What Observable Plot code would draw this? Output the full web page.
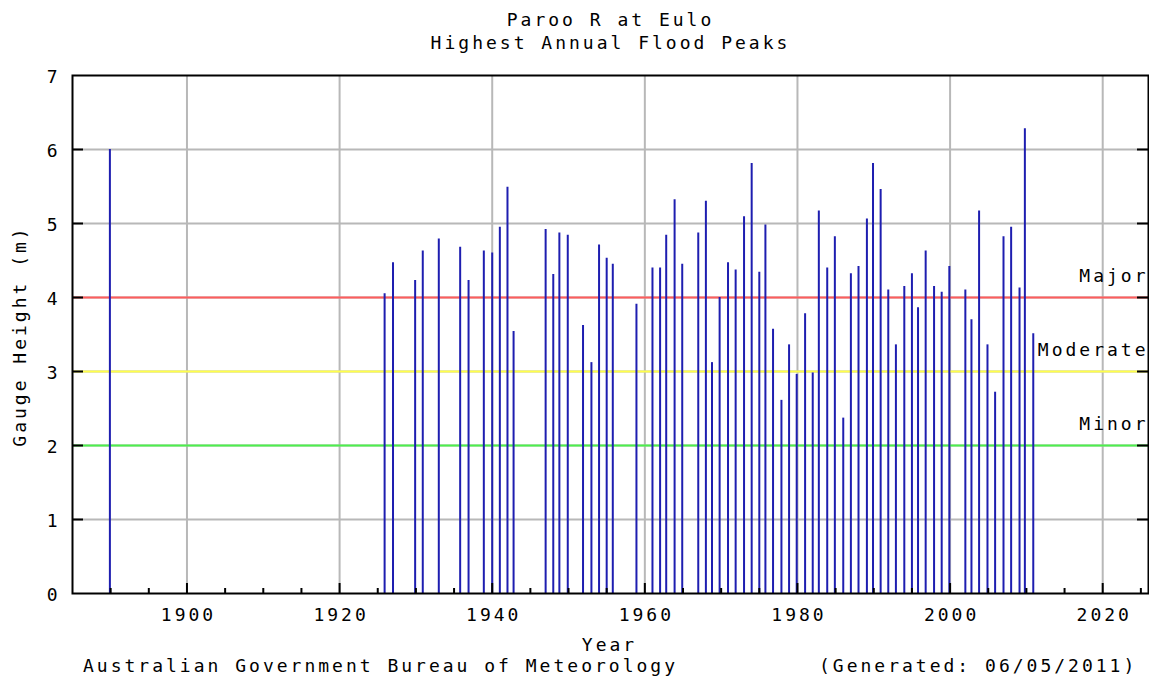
<!DOCTYPE html>
<html>
<head>
<meta charset="utf-8">
<script src="https://cdn.jsdelivr.net/npm/d3@7"></script>
<script src="https://cdn.jsdelivr.net/npm/@observablehq/plot@0.6"></script>
<style>
  body { margin: 0; background: #fff; }
  #wrap { position: relative; width: 1149px; height: 677px; overflow: hidden; background: #fff;
          font-family: "DejaVu Sans Mono", monospace; font-size: 18px; letter-spacing: 3px; color: #000; }
  .t { position: absolute; white-space: pre; line-height: 18px; }
  .c { transform: translateX(-50%); }
  #wrap svg { position: absolute; left: 0; top: 0; }
</style>
</head>
<body>
<div id="wrap"></div>
<script>
// ---- Text ----
const titleText = "Paroo R at Eulo";
const subtitleText = "Highest Annual Flood Peaks";
const xLabel = "Year";
const yLabel = "Gauge Height (m)";
const footerLeft = "Australian Government Bureau of Meteorology";
const footerRight = "(Generated: 06/05/2011)";

// ---- Data: decimal year of each annual peak and gauge height (m) ----
const peakYear = [
  1889.9,
  1925.9, 1927.0, 1929.9, 1930.9, 1933.0, 1935.8, 1936.9, 1938.9, 1940.0, 1941.0, 1942.0, 1942.8,
  1947.0, 1948.0, 1948.8, 1949.9, 1951.9, 1953.0, 1954.0, 1955.0, 1955.8, 1958.9,
  1961.0, 1962.0, 1962.8, 1963.9, 1964.9, 1967.0, 1968.0, 1968.8, 1969.8, 1970.9, 1971.9,
  1973.0, 1974.0, 1975.0, 1975.8, 1976.8, 1977.9, 1978.9, 1979.9, 1981.0, 1982.0, 1982.8,
  1983.9, 1984.9, 1986.0, 1987.0, 1988.0, 1989.1, 1989.9, 1990.9, 1991.9, 1992.9, 1994.0,
  1995.0, 1995.8, 1996.8, 1997.9, 1998.9, 1999.9, 2002.0, 2002.8, 2003.8, 2004.9, 2005.9,
  2007.0, 2008.0, 2009.1, 2009.8, 2010.9
];
const peakHeight = [
  6.00,
  4.05, 4.47, 4.23, 4.63, 4.79, 4.68, 4.23, 4.63, 4.60, 4.95, 5.49, 3.54,
  4.92, 4.31, 4.87, 4.84, 3.62, 3.12, 4.71, 4.53, 4.45, 3.91,
  4.40, 4.40, 4.84, 5.32, 4.45, 4.87, 5.30, 3.12, 4.00, 4.47, 4.37,
  5.09, 5.81, 4.34, 4.98, 3.57, 2.61, 3.36, 2.96, 3.78, 2.98, 5.17,
  4.40, 4.82, 2.37, 4.32, 4.42, 5.06, 5.81, 5.46, 4.10, 3.36, 4.15,
  4.32, 3.86, 4.63, 4.15, 4.07, 4.42, 4.10, 3.70, 5.17, 3.36, 2.72,
  4.82, 4.95, 4.13, 6.28, 3.51
];

// ---- Flood classification levels ----
const levelNames = ["Minor", "Moderate", "Major"];
const levelValues = [2, 3, 4];
const levelColors = ["#4cf04c", "#ffff4c", "#ff5c5c"];

// ---- Axis ticks ----
const xTicks = [1900, 1920, 1940, 1960, 1980, 2000, 2020];
const xMinorTicks = [1890, 1895, 1905, 1910, 1915, 1925, 1930, 1935, 1945, 1950, 1955, 1965, 1970, 1975,
                     1985, 1990, 1995, 2005, 2010, 2015, 2025];
const yTicks = [0, 1, 2, 3, 4, 5, 6, 7];
const yInnerTicks = [1, 2, 3, 4, 5, 6];

const peaks = peakYear.map((y, i) => ({year: y, height: peakHeight[i]}));
const levels = levelValues.map((v, i) => ({value: v, name: levelNames[i], color: levelColors[i]}));

const W = 1149, H = 677;
const mL = 72, mR = 1, mT = 75, mB = 84;
const frameW = W - mL - mR, frameH = H - mT - mB;

const chart = Plot.plot({
  width: W, height: H,
  marginLeft: mL, marginRight: mR, marginTop: mT, marginBottom: mB,
  style: {fontFamily: "DejaVu Sans Mono", fontSize: "18px", letterSpacing: "3px", background: "transparent", color: "#000"},
  x: {domain: [1885, 2026]},
  y: {domain: [0, 7]},
  marks: [
    Plot.gridX(xTicks, {stroke: "#b8b8b8", strokeOpacity: 1, strokeWidth: 2}),
    Plot.gridY(yInnerTicks, {stroke: "#b8b8b8", strokeOpacity: 1, strokeWidth: 2}),
    ...levels.map(l => Plot.ruleY([l.value], {stroke: l.color, strokeWidth: 2})),
    Plot.ruleX(peaks, {x: "year", y1: 0, y2: "height", stroke: "#1e1eb0", strokeWidth: 2}),
    Plot.text(levels, {y: "value", text: "name", frameAnchor: "right", textAnchor: "end", dx: 0, dy: -21, fill: "#000"}),
    // inward tick marks
    Plot.ruleY(yInnerTicks, {stroke: "#000", strokeWidth: 2, insetRight: frameW - 11}),
    Plot.ruleY(yInnerTicks, {stroke: "#000", strokeWidth: 2, insetLeft: frameW - 11}),
    Plot.ruleX(xTicks, {stroke: "#000", strokeWidth: 2, insetTop: frameH - 10}),
    Plot.ruleX(xMinorTicks, {stroke: "#000", strokeWidth: 2, insetTop: frameH - 5}),
    Plot.frame({stroke: "#000", strokeWidth: 2}),
    Plot.axisX(xTicks, {tickSize: 0, tickPadding: 15, label: null, tickFormat: "d", dx: 1.5}),
    Plot.axisY(yTicks, {tickSize: 0, tickPadding: 12, label: null, tickFormat: "d", dy: 2})
  ]
});

const wrap = document.getElementById("wrap");
wrap.appendChild(chart);

function addText(txt, css, cls) {
  const d = document.createElement("div");
  d.className = "t " + (cls || "");
  d.textContent = txt;
  Object.assign(d.style, css);
  wrap.appendChild(d);
  return d;
}
addText(titleText, {left: "610.5px", top: "10.8px"}, "c");
addText(subtitleText, {left: "610.5px", top: "33.5px"}, "c");
addText(xLabel, {left: "609.5px", top: "635.8px"}, "c");
addText(footerLeft, {left: "83px", top: "656.8px"});
addText(footerRight, {left: "819px", top: "656.8px"});
const yl = addText(yLabel, {left: "20px", top: "336px"});
yl.style.transform = "translate(-50%, -50%) rotate(-90deg)";
</script>
</body>
</html>
